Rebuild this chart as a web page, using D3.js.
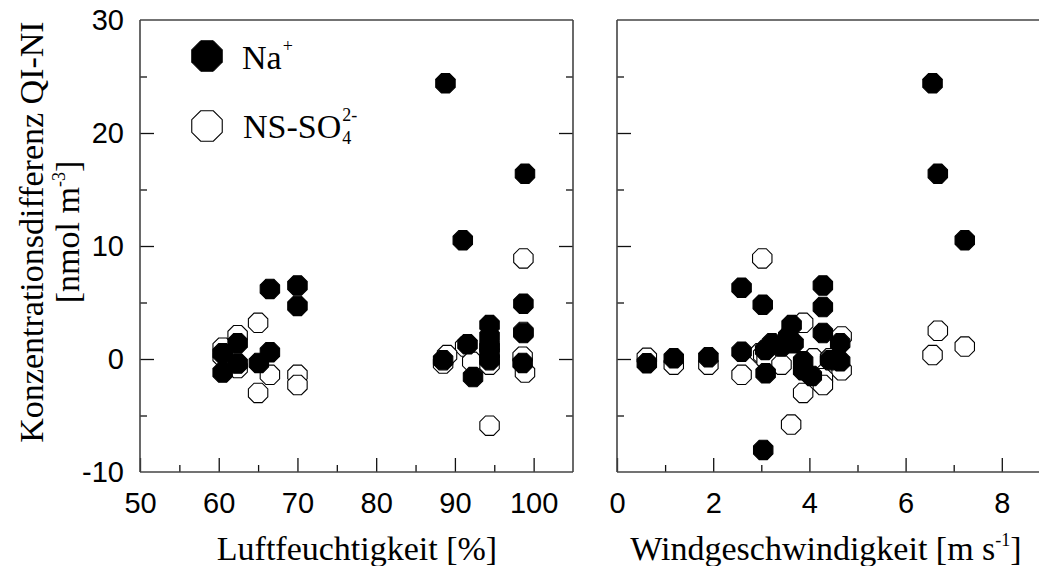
<!DOCTYPE html>
<html><head><meta charset="utf-8">
<script src="https://cdn.jsdelivr.net/npm/d3@7"></script>
<style>body{margin:0;background:#fff}svg{display:block}
.sans{font-family:"Liberation Sans", Arial, Helvetica, sans-serif}
.serif{font-family:"Liberation Serif", "Times New Roman", Times, serif}
</style>
</head><body>
<svg id="c" width="1039" height="566"></svg>
<script>
// ---- data ----
const humidityNa = [[88.8,24.4],[98.9,16.4],[91.0,10.5],[70.0,6.5],[66.5,6.2],[70.0,4.7],[98.7,4.9],[94.4,3.0],[98.7,2.3],[94.4,2.0],[94.4,1.2],[94.4,0.5],[94.4,-0.1],[91.6,1.3],[62.4,1.4],[60.5,0.5],[62.4,-0.4],[60.5,-1.2],[65.1,-0.35],[66.5,0.6],[92.3,-1.6],[88.5,-0.1],[98.6,-0.35]];
const humiditySO4 = [[65.0,3.2],[62.4,2.1],[60.5,1.0],[60.5,0.2],[62.4,-0.8],[66.5,-1.4],[65.0,-3.0],[70.0,-1.4],[70.0,-2.3],[98.7,8.9],[98.7,2.4],[98.6,0.2],[98.9,-1.2],[91.3,1.1],[92.2,-0.25],[88.5,-0.4],[89.0,0.35],[94.4,-0.5],[94.4,-5.9],[94.4,0.0],[94.4,1.0]];
const windNa = [[6.56,24.4],[6.67,16.4],[7.23,10.5],[4.28,6.5],[2.59,6.3],[3.03,4.8],[4.28,4.6],[3.63,3.0],[4.28,2.3],[3.56,2.0],[3.22,1.4],[3.67,1.4],[4.64,1.4],[3.42,1.1],[3.08,0.8],[2.59,0.65],[1.90,0.15],[1.18,0.06],[0.62,-0.38],[4.43,-0.1],[3.87,-0.2],[4.64,-0.2],[3.87,-1.0],[4.05,-1.5],[3.09,-1.27],[3.04,-8.05]];
const windSO4 = [[3.02,8.9],[6.67,2.5],[6.56,0.35],[7.23,1.1],[3.87,3.2],[4.67,2.0],[2.97,0.5],[3.04,0.35],[3.11,-0.1],[0.62,0.1],[1.18,-0.5],[1.90,-0.5],[2.59,-1.4],[3.42,-0.5],[4.08,0.06],[4.43,0.06],[4.67,-1.0],[4.28,-1.7],[4.28,-2.3],[3.87,-3.0],[3.62,-5.8]];
const yMajor = [-10,0,10,20,30];
const yMinor = [-5,5,15,25];
const hMajor = [50,60,70,80,90,100];
const hMinor = [55,65,75,85,95];
const wMajor = [0,2,4,6,8];
const wMinor = [1,3,5,7];
const legendLabels = ["Na", "NS-SO"];

// ---- layout ----
const svg = d3.select("#c");
const TOP = 20, BOT = 472;
const y = d3.scaleLinear().domain([-10,30]).range([BOT,TOP]);
const xh = d3.scaleLinear().domain([50,105]).range([140,573]);
const xw = d3.scaleLinear().domain([0,10]).range([617,1098]);
const frameCol = "#444";
const fmt = d => String(d);

function octagon(r){
  const pts = d3.range(8).map(i => {const a = Math.PI/8 + i*Math.PI/4; return [r*Math.cos(a), r*Math.sin(a)];});
  return d3.line()(pts) + "Z";
}

function styleAxis(g, labels){
  g.select(".domain").remove();
  g.attr("font-family", null).attr("font-size", null);
  g.selectAll(".tick line").attr("stroke","#111").attr("stroke-width",1.3);
  g.selectAll("text").attr("class","sans").style("font-size","29px").attr("fill","#000");
  if(!labels) g.selectAll("text").remove();
}

function panel(x, xMajor, xMinor, rightEdge){
  const x0 = x.range()[0], x1 = rightEdge ? x.range()[1] : 1039;
  svg.append("g").attr("transform",`translate(0,${BOT})`)
    .call(d3.axisBottom(x).tickValues(xMajor).tickSize(-14).tickPadding(20).tickFormat(fmt)).call(g=>styleAxis(g,true));
  svg.append("g").attr("transform",`translate(0,${BOT})`)
    .call(d3.axisBottom(x).tickValues(xMinor).tickSize(-7).tickFormat("")).call(g=>styleAxis(g,false));
  svg.append("g").attr("transform",`translate(${x0},0)`)
    .call(d3.axisLeft(y).tickValues(yMajor.filter(v=>v>-10&&v<30)).tickSize(-14).tickFormat("")).call(g=>styleAxis(g,false));
  svg.append("g").attr("transform",`translate(${x0},0)`)
    .call(d3.axisLeft(y).tickValues(yMinor).tickSize(-7).tickFormat("")).call(g=>styleAxis(g,false));
  if(rightEdge){
    svg.append("g").attr("transform",`translate(${x1},0)`)
      .call(d3.axisRight(y).tickValues(yMajor.filter(v=>v>-10&&v<30)).tickSize(-14).tickFormat("")).call(g=>styleAxis(g,false));
    svg.append("g").attr("transform",`translate(${x1},0)`)
      .call(d3.axisRight(y).tickValues(yMinor).tickSize(-7).tickFormat("")).call(g=>styleAxis(g,false));
  }
  const f = svg.append("g").attr("stroke",frameCol).attr("stroke-width",1.6).attr("fill","none");
  f.append("line").attr("x1",x0).attr("x2",x1).attr("y1",TOP).attr("y2",TOP);
  f.append("line").attr("x1",x0).attr("x2",x1).attr("y1",BOT).attr("y2",BOT);
  f.append("line").attr("x1",x0).attr("x2",x0).attr("y1",TOP).attr("y2",BOT);
  if(rightEdge) f.append("line").attr("x1",x1).attr("x2",x1).attr("y1",TOP).attr("y2",BOT);
}

panel(xh, hMajor, hMinor, true);
panel(xw, wMajor, wMinor, false);

svg.append("g").attr("transform",`translate(140,0)`)
  .call(d3.axisLeft(y).tickValues(yMajor).tickSize(0).tickPadding(16).tickFormat(fmt)).call(g=>styleAxis(g,true));

// points
const oct = octagon(10.5);
function drawPoints(data, x, filled){
  svg.append("g").selectAll("path").data(data).join("path")
    .attr("d", oct)
    .attr("transform", d => `translate(${x(d[0])},${y(d[1])})`)
    .attr("fill", filled ? "#000" : "#fff")
    .attr("stroke", "#000").attr("stroke-width", 1.1);
}
drawPoints(humiditySO4, xh, false);
drawPoints(windSO4, xw, false);
drawPoints(humidityNa, xh, true);
drawPoints(windNa, xw, true);

// legend
const lg = svg.append("g");
lg.append("path").attr("d", octagon(16.5)).attr("transform","translate(207,56)").attr("fill","#000").attr("stroke","#000");
lg.append("path").attr("d", octagon(16.5)).attr("transform","translate(207,126)").attr("fill","#fff").attr("stroke","#000").attr("stroke-width",1.1);
function stxt(g, x, yy, size, s){ return g.append("text").attr("class","serif").attr("x",x).attr("y",yy).style("font-size",size+"px").text(s); }
const t1 = stxt(lg, 242, 69, 34, legendLabels[0]);
const w1 = t1.node().getComputedTextLength();
stxt(lg, 242+w1+1, 52, 18, "+");
const t2 = stxt(lg, 243, 138, 34, legendLabels[1]);
const w2 = t2.node().getComputedTextLength();
stxt(lg, 243+w2+1, 121, 18, "2-");
stxt(lg, 243+w2+1, 144, 18, "4");

// axis titles
function titleWithSup(xc, yc, main, sup, tail, rotate){
  const g = svg.append("g").attr("transform", rotate ? `translate(${xc},${yc}) rotate(-90)` : `translate(${xc},${yc})`);
  const t = g.append("text").attr("class","serif").style("font-size","34px").attr("text-anchor","middle");
  t.append("tspan").text(main);
  if(sup){
    t.append("tspan").style("font-size","18px").attr("dy",-14).text(sup);
    t.append("tspan").attr("dy",14).text(tail);
  }
  return g;
}
titleWithSup(357, 560, "Luftfeuchtigkeit [%]", null, null, false);
titleWithSup(826, 560, "Windgeschwindigkeit [m s", "-1", "]", false);
titleWithSup(43, 232, "Konzentrationsdifferenz QI-NI", null, null, true);
titleWithSup(79, 232, "[nmol m", "-3", "]", true);
</script>
</body></html>
